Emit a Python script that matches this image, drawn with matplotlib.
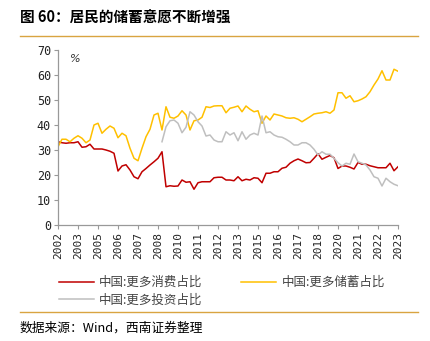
import numpy as np
import matplotlib.pyplot as plt
from matplotlib.lines import Line2D

plt.rcParams['font.family'] = ['Noto Sans CJK SC', 'DejaVu Sans']

# quarterly survey, 2002Q3 .. 2023Q4
xlabels = ['2002', '2003', '2005', '2006', '2007', '2008', '2010', '2011', '2012',
           '2013', '2015', '2016', '2017', '2018', '2020', '2021', '2022', '2023']

consume = [33.3, 32.9, 32.7, 32.9, 32.9, 33.3, 31.1, 31.3, 32.3, 30.4,
           30.4, 30.4, 30.0, 29.5, 28.7, 21.6, 23.6, 24.1, 22.0, 19.3,
           18.5, 21.3, 22.6, 24.0, 25.3, 26.7, 29.3, 15.3, 15.7, 15.5,
           15.6, 18.0, 17.1, 17.3, 14.3, 16.9, 17.3, 17.3, 17.3, 18.9,
           19.1, 19.1, 18.0, 18.0, 17.7, 19.3, 17.7, 18.3, 18.0, 18.9,
           18.7, 16.9, 20.7, 20.7, 21.3, 21.3, 22.7, 23.1, 24.7, 25.7,
           26.4, 25.7, 24.9, 25.0, 26.7, 28.5, 26.3, 27.1, 27.8, 26.9,
           22.6, 23.6, 23.6, 23.1, 22.4, 25.0, 24.3, 24.3, 23.7, 23.3,
           22.9, 22.9, 22.9, 24.7, 21.7, 23.3]

savings = [31.3, 34.3, 34.3, 33.3, 34.7, 35.7, 34.7, 32.9, 34.0, 40.0,
           40.7, 36.7, 38.3, 39.6, 38.7, 34.9, 36.7, 35.7, 30.7, 26.7,
           25.7, 30.7, 35.3, 38.3, 44.0, 44.7, 38.0, 47.3, 43.1, 42.7,
           43.6, 45.7, 44.0, 38.0, 41.7, 42.0, 43.1, 47.3, 47.0, 47.6,
           47.7, 47.7, 44.9, 46.7, 47.1, 47.6, 45.3, 47.6, 46.3, 45.3,
           45.7, 40.7, 43.6, 42.0, 44.4, 44.0, 43.6, 42.9, 42.7, 42.9,
           42.3, 41.3, 42.3, 43.3, 44.4, 44.7, 44.9, 45.3, 44.7, 46.0,
           52.9, 52.9, 50.7, 51.7, 49.3, 49.7, 50.4, 51.3, 53.3, 56.0,
           58.4, 61.7, 58.0, 58.0, 62.3, 61.5]

# investment series starts in 2009Q1
invest = [np.nan] * 26 + [
           33.3, 39.3, 41.7, 42.0, 40.7, 36.9, 39.1, 45.3, 44.0, 41.3,
           39.6, 35.6, 36.0, 34.0, 33.3, 33.3, 37.3, 36.0, 36.9, 33.7,
           37.3, 34.3, 36.0, 36.7, 36.0, 43.6, 36.9, 37.3, 36.0, 35.3,
           35.1, 34.3, 33.3, 32.0, 32.0, 32.9, 32.9, 32.0, 30.3, 28.0,
           29.3, 28.3, 28.3, 26.7, 24.9, 23.6, 24.7, 24.3, 28.4, 25.3,
           24.7, 24.0, 22.0, 19.3, 18.7, 15.6, 18.7, 17.3, 16.3, 15.7]

x = np.arange(len(consume))

fig = plt.figure(figsize=(4.3, 3.41), dpi=100)
ax = fig.add_axes([58/430, 1 - 225/341, 340/430, 175/341])

ax.plot(x, consume, color='#C00000', lw=1.1)
ax.plot(x, savings, color='#FFC000', lw=1.1)
ax.plot(x, invest, color='#BFBFBF', lw=1.1)

ax.set_xlim(0, len(x) - 1)
ax.set_ylim(0, 70)
ax.set_yticks(range(0, 71, 10))
ax.set_xticks(x[::5])
ax.set_xticklabels(xlabels, rotation=90, family='DejaVu Sans Mono', fontsize=8)
for t in ax.get_yticklabels():
    t.set_family('DejaVu Sans Mono')
    t.set_fontsize(8.5)
ax.tick_params(length=3, width=0.8, color='#999999', pad=2, labelcolor='#222222')
for s in ['top', 'right']:
    ax.spines[s].set_visible(False)
for s in ['left', 'bottom']:
    ax.spines[s].set_color('#999999')
    ax.spines[s].set_linewidth(0.9)

ax.text(0.035, 0.975, '%', transform=ax.transAxes, fontsize=8, style='italic',
        va='top', ha='left', color='#333333', family='DejaVu Sans')

handles = [Line2D([], [], color='#C00000', lw=1.1),
           Line2D([], [], color='#BFBFBF', lw=1.1),
           Line2D([], [], color='#FFC000', lw=1.1)]
names = ['中国:更多消费占比', '中国:更多投资占比', '中国:更多储蓄占比']
fig.legend(handles, names, ncol=2, loc='upper left', bbox_to_anchor=(53/430, 1 - 270/341),
           frameon=False, fontsize=9, handlelength=2.8, handletextpad=0.4,
           columnspacing=3.1, labelspacing=0.35, borderpad=0, labelcolor='#444444')

fig.text(20/430, 1 - 18/341, '图 60：居民的储蓄意愿不断增强', fontsize=10.5,
         fontweight='bold', va='center', ha='left')
fig.add_artist(Line2D([20/430, 418/430], [1 - 36/341, 1 - 36/341],
                      color='#D9A441', lw=1.0, transform=fig.transFigure))
fig.add_artist(Line2D([20/430, 418/430], [1 - 312/341, 1 - 312/341],
                      color='#D9A441', lw=1.0, transform=fig.transFigure))
fig.text(20/430, 1 - 328/341, '数据来源：Wind，西南证券整理', fontsize=9.2,
         style='italic', va='center', ha='left')

plt.savefig('out.png', dpi=100)
